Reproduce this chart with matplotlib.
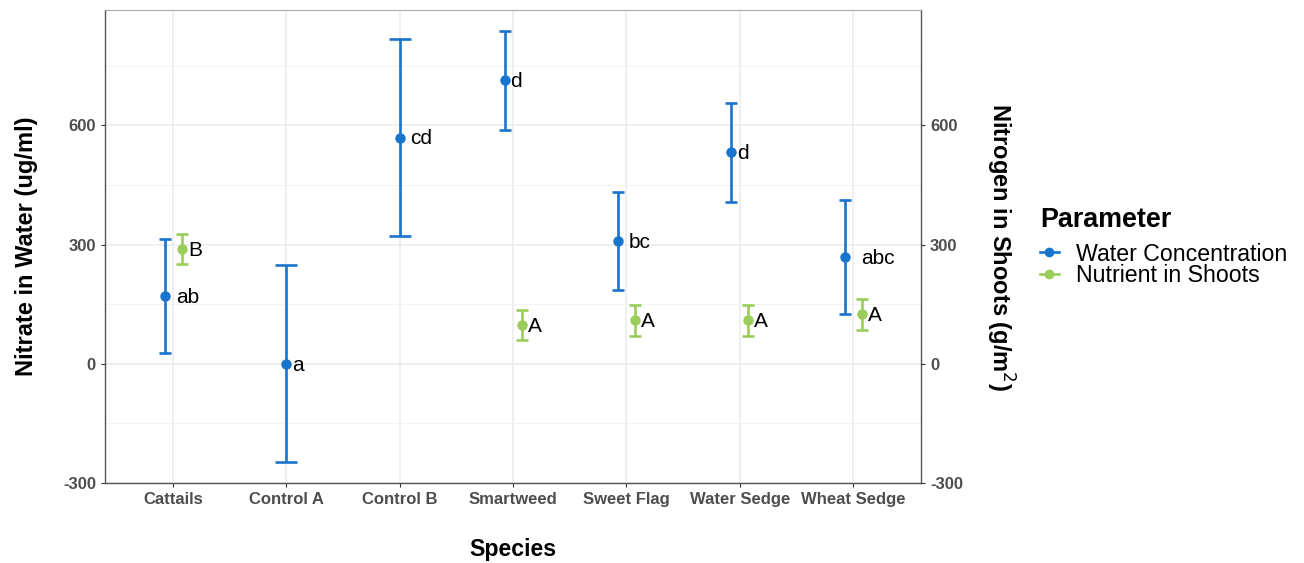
import numpy as np
import matplotlib
matplotlib.use('Agg')
import matplotlib.pyplot as plt
from matplotlib.lines import Line2D

plt.rcParams['font.family'] = ['Liberation Sans', 'DejaVu Sans']
plt.rcParams['axes.unicode_minus'] = False

species = ['Cattails', 'Control A', 'Control B', 'Smartweed', 'Sweet Flag', 'Water Sedge', 'Wheat Sedge']
water_mean = [171, 0, 569, 713, 309, 532, 268]
water_err = [143, 248, 248, 124, 123, 124, 143]
water_lab = ['ab', 'a', 'cd', 'd', 'bc', 'd', 'abc']
shoot_mean = [288, np.nan, np.nan, 98, 109, 109, 124]
shoot_err = [38, np.nan, np.nan, 38, 38, 38, 38]
shoot_lab = ['B', '', '', 'A', 'A', 'A', 'A']
yticks = [-300, 0, 300, 600]

blue = '#1874CD'
green = '#9ACD5A'
# label offsets in pixels, to the right of each point
water_off = [12, 6, 10, 6, 11, 6, 17]
shoot_off = [7, 6, 6, 6, 6, 6, 6]

fig = plt.figure(figsize=(13.04, 5.63), dpi=100)
ax = fig.add_axes([105/1304, 80/563, 816/1304, 473/563])

x = np.arange(len(species))
for i in range(len(species)):
    paired = not np.isnan(shoot_mean[i])
    d = 0.075 if paired else 0.0
    cap = 4 if paired else 8
    ax.errorbar(x[i] - d, water_mean[i], yerr=water_err[i], color=blue, lw=1.9,
                capsize=cap, capthick=1.9, marker='o', ms=6.5, zorder=3)
    ax.annotate(water_lab[i], (x[i] - d, water_mean[i]), xytext=(water_off[i]*0.72, -1),
                textcoords='offset points', ha='left', va='center', fontsize=15)
    if paired:
        ax.errorbar(x[i] + d, shoot_mean[i], yerr=shoot_err[i], color=green, lw=1.9,
                    capsize=4, capthick=1.9, marker='o', ms=6.5, zorder=3)
        ax.annotate(shoot_lab[i], (x[i] + d, shoot_mean[i]), xytext=(shoot_off[i]*0.72, -1),
                    textcoords='offset points', ha='left', va='center', fontsize=15)

ax.set_xlim(-0.6, 6.6)
ax.set_ylim(-300, 890)
ax.set_xticks(x)
ax.set_xticklabels(species)
ax.set_yticks(yticks)
ax.set_yticks([-150, 150, 450, 750], minor=True)
ax.grid(True, which='major', color='#EBEBEB', lw=1.1)
ax.grid(True, which='minor', axis='y', color='#F3F3F3', lw=0.7)
ax.set_axisbelow(True)
ax.tick_params(axis='both', which='major', colors='#333333', length=3, width=0.8,
               labelcolor='#4D4D4D', labelsize=12)
ax.tick_params(which='minor', length=0)
for lab in ax.get_xticklabels() + ax.get_yticklabels():
    lab.set_fontweight('bold')
for s in ['left', 'bottom', 'right']:
    ax.spines[s].set_color('#555555')
    ax.spines[s].set_linewidth(1.0)
ax.spines['top'].set_color('#AAAAAA')

ax.set_xlabel('Species', fontsize=16.7, fontweight='bold', labelpad=22)
ax.set_ylabel('Nitrate in Water (ug/ml)', fontsize=17, fontweight='bold', labelpad=18)

ax2 = ax.twinx()
ax2.set_ylim(ax.get_ylim())
ax2.set_yticks(yticks)
ax2.tick_params(axis='y', colors='#333333', length=3, width=0.8, labelcolor='#4D4D4D', labelsize=12)
for lab in ax2.get_yticklabels():
    lab.set_fontweight('bold')
for s in ['left', 'bottom', 'right', 'top']:
    ax2.spines[s].set_visible(False)
ax2.set_ylabel('Nitrogen in Shoots (g/m$^{2}$)', fontsize=17, fontweight='bold',
               rotation=-90, labelpad=38)

fig.text(1040/1304, 1 - 220/563, 'Parameter', fontsize=19.4, fontweight='bold',
         ha='left', va='center')
handles = [Line2D([], [], color=blue, marker='o', ms=6, lw=1.9),
           Line2D([], [], color=green, marker='o', ms=6, lw=1.9)]
leg = fig.legend(handles, ['Water Concentration', 'Nutrient in Shoots'],
                 loc='center left', bbox_to_anchor=(1040/1304, 1 - 265/563), frameon=False,
                 fontsize=16.7, handlelength=0.8, handletextpad=0.75, labelspacing=-0.05,
                 borderaxespad=0, borderpad=0)

fig.savefig('out.png', dpi=100)
